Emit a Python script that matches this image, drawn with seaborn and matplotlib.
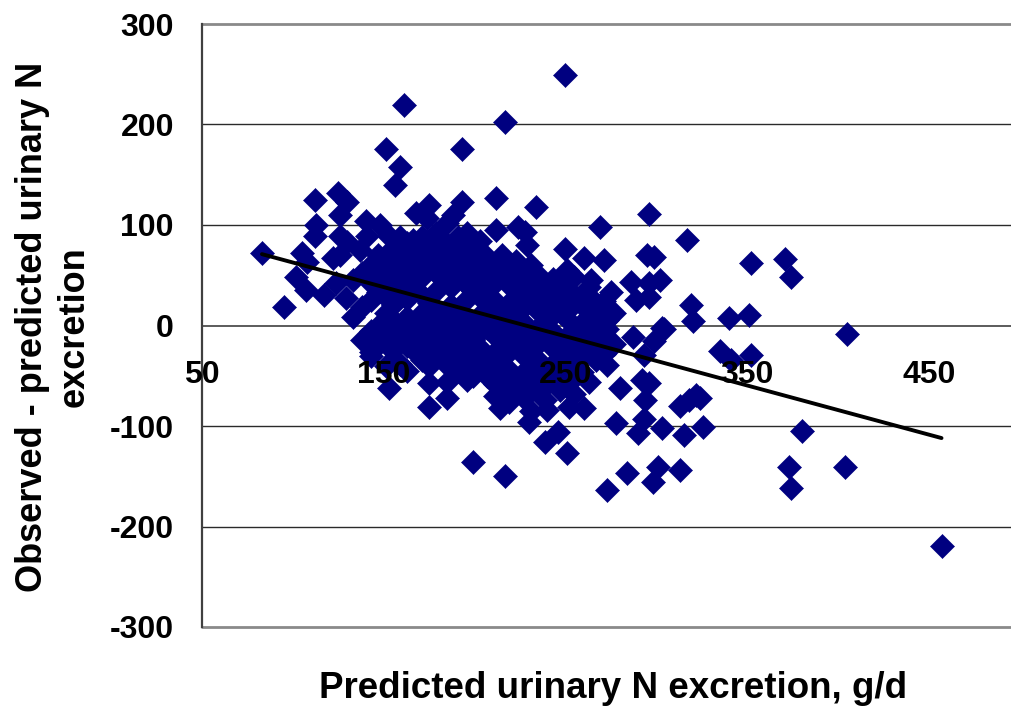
import matplotlib
matplotlib.use("Agg")
import matplotlib.pyplot as plt
import numpy as np
import pandas as pd
import seaborn as sns

# ---- data ----
# scattered / outlying observations
outer_pred = [83, 95, 105, 108, 122, 126, 137, 102, 107, 124, 117, 129,
              112, 125, 130, 126, 140, 113, 112, 126, 130, 148, 153, 141,
              151, 159, 156, 161, 193, 166, 179, 196, 166, 168, 175, 174, 193, 188, 185,
              142, 143, 153, 175, 185, 185, 175, 196, 199,
              250, 217, 212, 234, 296, 269, 212, 224, 228, 229, 317, 250, 260, 271, 295, 299,
              251, 264, 286, 302, 296, 275, 289, 296, 319, 320, 303, 247, 254, 267, 243, 234,
              221, 230, 273,
              304, 287, 299, 293, 273, 265, 273, 280, 292, 296, 294, 322, 318, 313, 278, 293,
              290, 303, 315, 326, 246, 239, 251, 217, 284, 301, 313, 298, 273, 230, 214, 240,
              252, 260,
              352, 371, 374, 340, 351, 335, 341, 352, 405, 380, 373, 374, 404, 457, 324]
outer_resid = [72, 18, 72, 63, 67, 70, 75, 48, 35, 42, 30, 27,
               125, 132, 123, 110, 104, 100, 89, 89, 83, 100, 89, 89,
               176, 158, 140, 219, 176, 85, 85, 92, 72, 112, 120, 107, 123, 110, 102,
               -8, -26, -62, -57, -56, -72, -81, -54, -136,
               249, 202, 127, 118, 111, 98, 95, 98, 93, 80, 85, 76, 67, 65, 70, 68,
               55, 45, 43, 45, 42, 33, 25, 28, 20, 4, -2, 13, 20, 22, 32, 42,
               53, 55, 5,
               -3, -11, -15, -29, -3, -14, -39, -62, -54, -57, -74, -69, -74, -80, -97, -93,
               -107, -102, -109, -101, -106, -116, -127, -150, -147, -141, -144, -156, -164, -96, -82, -84,
               -81, -82,
               62, 66, 48, 7, 10, -25, -34, -29, -8, -105, -141, -162, -141, -219, -72]

# dense core of the cloud: predicted value of each column and the residuals in it
core_pred = [133, 138, 143, 147, 151, 155, 159, 163, 167, 171, 175, 179, 183,
             187, 191, 195, 199, 203, 207, 211, 215, 219, 223, 227, 231, 235, 239,
             243, 247, 251, 255, 259, 263, 267, 271, 277]
core_resid = [
    [45, 8],
    [52, 18, -14],
    [60, 42, 25, -5, -30],
    [70, 50, 33, 0, -14],
    [64, 45, 28, 12, -3, -18, -40],
    [77, 58, 38, 20, 5, -10, -24],
    [88, 70, 52, 33, 0, -15, -38],
    [82, 62, 44, 26, 8, -6, -20, -45],
    [75, 55, 36, 2, -12, -26],
    [88, 68, 48, 30, 12, -4, -18, -34],
    [80, 60, 22, 6, -10, -25, -40],
    [92, 72, 52, 34, 16, 0, -16, -30],
    [84, 64, 45, 10, -6, -22, -36],
    [76, 56, 38, 20, 4, -12, -28],
    [88, 68, 48, 14, -2, -18, -34, -45],
    [80, 60, 42, 24, 8, -8, -24, -40],
    [72, 52, 34, 2, -14, -30, -50],
    [84, 64, 45, 28, 10, -6, -22, -38],
    [68, 48, 30, 14, -2, -34, -50],
    [60, 42, 24, 8, -10, -26, -45, -58, -70],
    [70, 52, 16, 0, -16, -32, -48, -60],
    [58, 40, 22, 6, -10, -26, -44, -60, -76],
    [64, 46, 28, 12, -4, -20, -52, -68],
    [54, 36, 18, 2, -14, -30, -46, -62, -72],
    [60, 42, 24, -8, -24, -40, -56, -85],
    [50, 32, 14, -2, -18, -34, -50, -66],
    [38, 20, 4, -12, -44, -60, -74],
    [46, 28, 10, -6, -22, -38, -54],
    [40, 16, -16, -32, -48, -64],
    [42, 24, 6, -10, -26, -42, -58],
    [48, 30, -4, -20, -36, -52, -68],
    [20, 2, -14, -30, -46],
    [38, 26, 8, -8, -24, -56],
    [16, -2, -18, -34],
    [24, 4, -12, -28],
    [12, -18],
]

# linear trend line end points
trend_pred = [83, 457]
trend_resid = [71, -112]

x_ticks = [50, 150, 250, 350, 450]
y_ticks = [-300, -200, -100, 0, 100, 200, 300]
x_label = "Predicted urinary N excretion, g/d"
y_label = "Observed - predicted urinary N\nexcretion"

# ---- build table ----
assert len(outer_pred) == len(outer_resid)
assert len(core_pred) == len(core_resid)
rows_x = list(outer_pred)
rows_y = list(outer_resid)
for px, ys in zip(core_pred, core_resid):
    for yv in ys:
        rows_x.append(px)
        rows_y.append(yv)
df = pd.DataFrame({"pred": rows_x, "resid": rows_y})

# ---- figure ----
sns.set_theme(style="white")
plt.rcParams["font.family"] = ["Liberation Sans", "DejaVu Sans"]
plt.rcParams["font.weight"] = "bold"
plt.rcParams["text.color"] = "black"
plt.rcParams["axes.labelcolor"] = "black"

W, H = 1011, 706
fig = plt.figure(figsize=(W / 100, H / 100), dpi=100)
fig.patch.set_facecolor("white")
L, R, T, B = 202, 1011, 24, 627
ax = fig.add_axes([L / W, 1 - B / H, (R - L) / W, (B - T) / H])
ax.set_facecolor("white")
ax.set_axisbelow(False)

navy = "#000080"
sns.scatterplot(data=df, x="pred", y="resid", marker="D", s=150, color=navy,
                edgecolor=navy, linewidth=0.4, ax=ax, zorder=2, legend=False)
sns.lineplot(x=trend_pred, y=trend_resid, color="black", linewidth=2.8, ax=ax,
             zorder=3, estimator=None, sort=False)

ax.set_xlim(50, 50 + (R - L) / 1.817)
ax.set_ylim(-300, 300)

# gridlines
for v in [-200, -100, 100, 200]:
    ax.axhline(v, color="#2a2a2a", lw=1.0, zorder=0.5)
for v in [-300, 300]:
    ax.axhline(v, color="#8a8a8a", lw=2.0, zorder=0.5, clip_on=False)

# spines
for s in ["top", "right"]:
    ax.spines[s].set_visible(False)
ax.spines["left"].set_color("#404040")
ax.spines["left"].set_linewidth(1.6)
ax.spines["bottom"].set_position(("data", 0))
ax.spines["bottom"].set_color("#404040")
ax.spines["bottom"].set_linewidth(1.2)
ax.spines["bottom"].set_zorder(1)

ax.set_xticks(x_ticks)
ax.set_xticklabels([str(t) for t in x_ticks], fontsize=23, fontweight="bold", color="black")
ax.set_yticks(y_ticks)
ax.set_yticklabels([str(t) for t in y_ticks], fontsize=23, fontweight="bold", color="black")
ax.tick_params(axis="x", direction="out", length=6, width=1, color="#404040", pad=19)
ax.tick_params(axis="y", direction="out", length=7.2, width=1, color="#404040", pad=13)

ax.set_xlabel(x_label, fontsize=26.5, fontweight="bold", va="center", ha="center",
              color="black")
ax.xaxis.set_label_coords((613 - L) / (R - L), (B - 688) / (B - T))
ax.set_ylabel(y_label, fontsize=26, fontweight="bold", va="center", ha="center",
              linespacing=1.25, color="black")
ax.yaxis.set_label_coords((53 - L) / (R - L), (B - 327) / (B - T))

fig.savefig("out.png", dpi=100, facecolor="white")
